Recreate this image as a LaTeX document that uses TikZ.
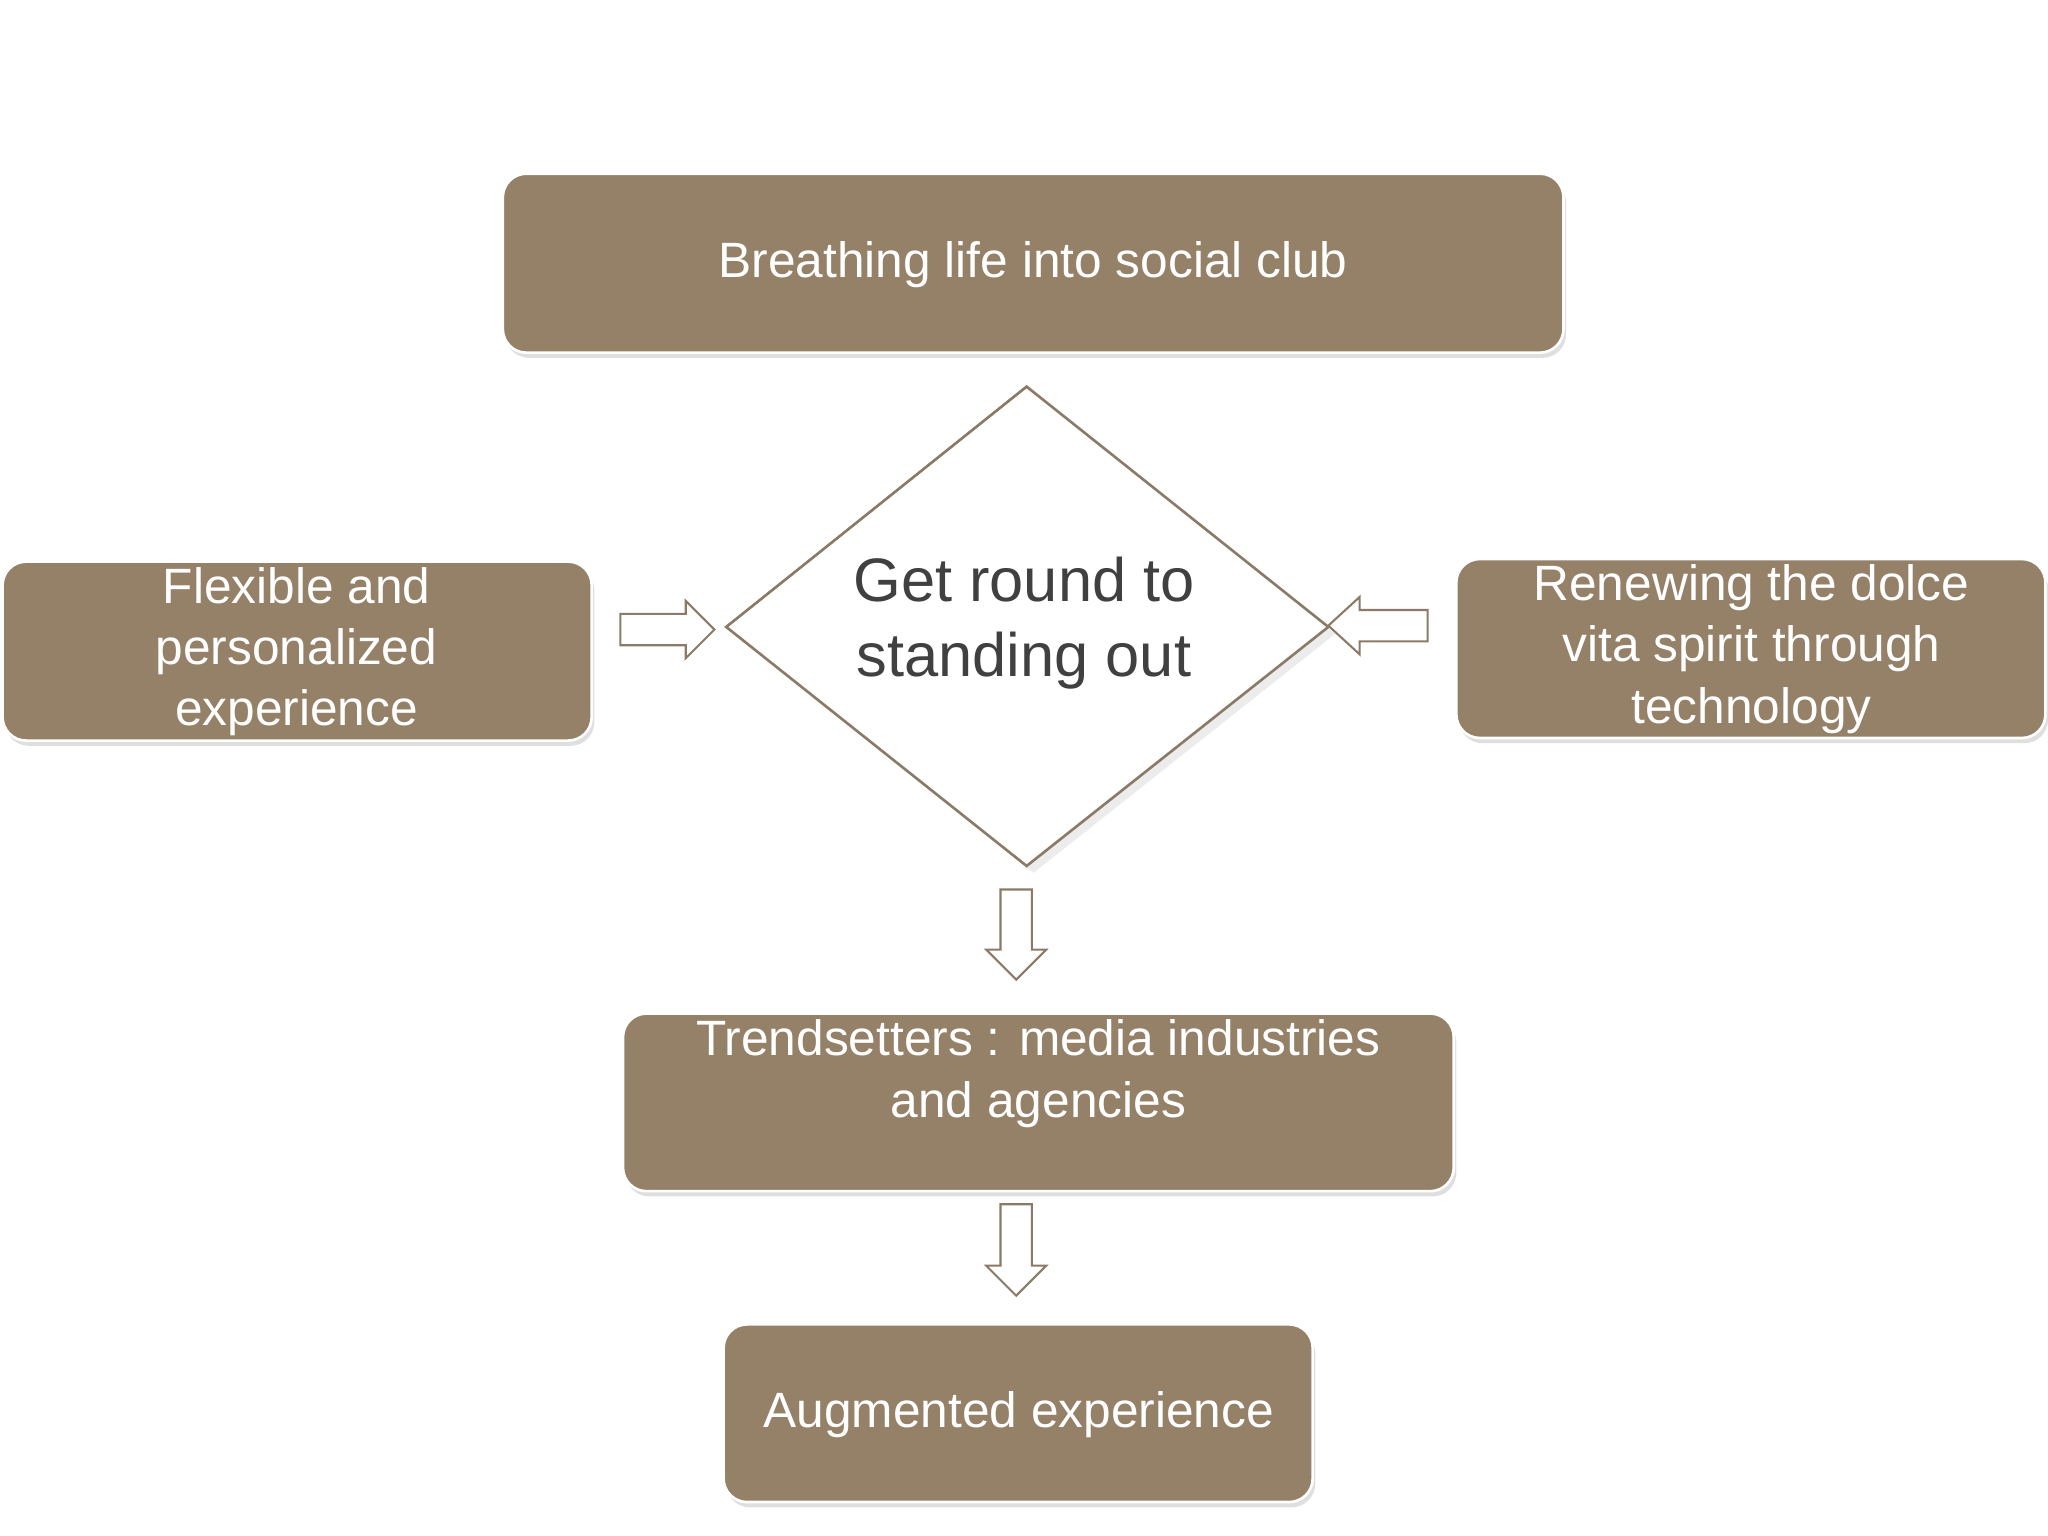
\documentclass[tikz,border=0pt]{standalone}
\usepackage{fontspec}
\setmainfont{Liberation Sans}
\usetikzlibrary{shapes.geometric,shadows}
\definecolor{boxc}{HTML}{958068}
\definecolor{edgec}{HTML}{8A7A66}
\definecolor{txt}{HTML}{404040}
\begin{document}
\begin{tikzpicture}[x=0.5pt,y=-0.5pt,
  box/.style={draw=white,line width=1pt,fill=boxc,rounded corners=9pt,text=white,align=center,font=\fontsize{19}{23.5}\selectfont,drop shadow={opacity=0.25,shadow xshift=1pt,shadow yshift=-2pt}},
  barrow/.style={draw=edgec,fill=white,line width=0.8pt}]
\useasboundingbox (0,0) rectangle (1568,1176);
\draw[box] (385,133) rectangle (1197,270);
\node[text=white,font=\fontsize{19}{23.5}\selectfont] (t) at (791,203) {Breathing life into social club};
\draw[box] (2,430) rectangle (453,567);
\node[text=white,align=center,font=\fontsize{19}{23.5}\selectfont] (l) at (227,499) {Flexible and\\personalized\\experience};
\draw[box] (1115,428) rectangle (1566,565);
\node[text=white,align=center,font=\fontsize{19}{23.5}\selectfont] (r) at (1341,497) {Renewing the dolce\\vita spirit through\\technology};
\draw[box] (477,776) rectangle (1113,912);
\node[text=white,align=center,font=\fontsize{19}{23.5}\selectfont] (m) at (795,822) {Trendsetters : media industries\\and agencies};
\draw[box] (554,1014) rectangle (1005,1150);
\node[text=white,font=\fontsize{19}{23.5}\selectfont] (b) at (780,1083) {Augmented experience};
\draw[draw=edgec,line width=1pt,fill=white,drop shadow={opacity=0.15}] (786,296) -- (1017,480) -- (786,663) -- (556,480) -- cycle;
\node[text=txt,align=center,font=\fontsize{23.5}{28.5}\selectfont] (d) at (784,477) {Get round to\\standing out};
% block arrows
\draw[barrow] (475,470) -- (525,470) -- (525,460) -- (547,482) -- (525,504) -- (525,494) -- (475,494) -- cycle;
\draw[barrow] (1093,467) -- (1041,467) -- (1041,457) -- (1017,479) -- (1041,501) -- (1041,491) -- (1093,491) -- cycle;
\draw[barrow] (766,681) -- (766,727) -- (755,727) -- (778,750) -- (801,727) -- (790,727) -- (790,681) -- cycle;
\draw[barrow] (766,922) -- (766,969) -- (755,969) -- (778,992) -- (801,969) -- (790,969) -- (790,922) -- cycle;
\end{tikzpicture}
\end{document}
